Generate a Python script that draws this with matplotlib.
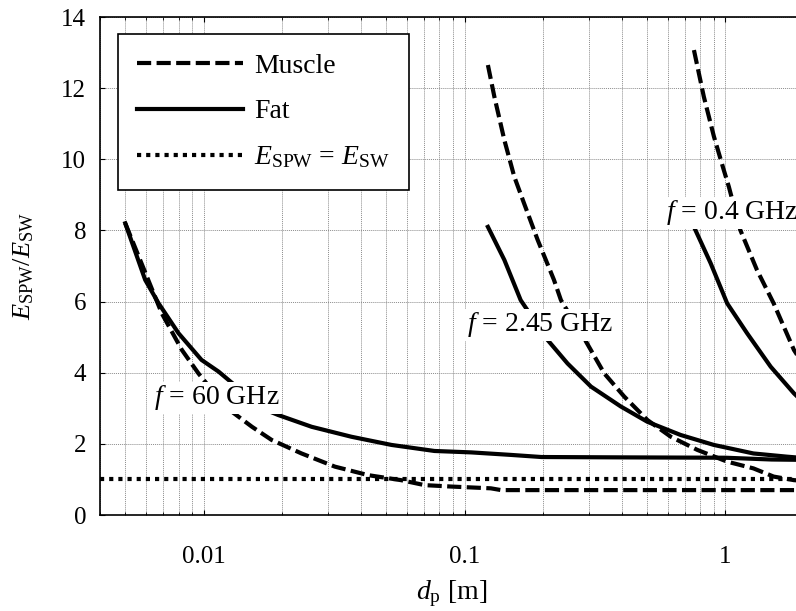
import numpy as np
import matplotlib
matplotlib.use("Agg")
import matplotlib.pyplot as plt
from matplotlib.ticker import LogLocator, FixedLocator, NullFormatter

plt.rcParams['font.family'] = ['Liberation Serif', 'DejaVu Serif']
plt.rcParams['mathtext.fontset'] = 'custom'
plt.rcParams['mathtext.rm'] = 'Liberation Serif'
plt.rcParams['mathtext.it'] = 'Liberation Serif:italic'
plt.rcParams['font.size'] = 18

# 60 GHz
fat60_d = [0.0050, 0.00596, 0.00671, 0.0080, 0.0098, 0.0114, 0.0140, 0.0167, 0.0193,
           0.0259, 0.0368, 0.0524, 0.0766, 0.106, 0.150, 0.197, 0.40, 1.0, 1.5, 2.0]
fat60_r = [8.20, 6.61, 5.95, 5.11, 4.36, 4.03, 3.48, 3.00, 2.81,
           2.48, 2.20, 1.97, 1.80, 1.76, 1.69, 1.63, 1.62, 1.61, 1.56, 1.55]
mus60_d = [0.0050, 0.0069, 0.00824, 0.00954, 0.0121, 0.0153, 0.0182, 0.0237, 0.0318,
           0.0427, 0.057, 0.0702, 0.0887, 0.126, 0.138, 2.0]
mus60_r = [8.20, 5.67, 4.64, 3.98, 3.04, 2.48, 2.11, 1.73, 1.36,
           1.12, 0.98, 0.84, 0.80, 0.75, 0.70, 0.70]

# 2.45 GHz
fat245_d = [0.1228, 0.142, 0.164, 0.208, 0.248, 0.305, 0.397, 0.502, 0.673,
            0.902, 1.28, 1.72, 2.0]
fat245_r = [8.10, 7.17, 6.04, 4.92, 4.26, 3.61, 3.05, 2.62, 2.25,
            1.97, 1.73, 1.64, 1.60]
mus245_d = [0.1228, 0.130, 0.142, 0.155, 0.169, 0.1906, 0.220, 0.234, 0.287,
            0.343, 0.409, 0.502, 0.617, 0.78, 1.015, 1.28, 1.53, 1.83, 2.0]
mus245_r = [12.65, 11.76, 10.54, 9.51, 8.76, 7.73, 6.61, 6.04, 4.97,
            3.98, 3.33, 2.67, 2.20, 1.83, 1.50, 1.31, 1.08, 0.98, 0.96]

# 0.4 GHz
fat04_d = [0.757, 0.877, 1.015, 1.21, 1.49, 1.83, 2.0]
fat04_r = [8.10, 7.08, 5.95, 5.11, 4.17, 3.42, 3.15]
mus04_d = [0.757, 0.826, 0.903, 0.985, 1.03, 1.14, 1.32, 1.53, 1.83, 2.0]
mus04_r = [13.07, 11.76, 10.64, 9.70, 9.23, 8.01, 6.89, 5.95, 4.64, 4.20]

ref_d = [0.004, 2.0]
ref_r = [1.0, 1.0]

fig = plt.figure(figsize=(7.96, 6.11), dpi=100)
ax = fig.add_axes([100/796, 96/611, 704/796, 498/611])

lw = 3
dash = (0, (3.4, 1.3))
ax.plot(mus60_d, mus60_r, color='black', lw=lw, linestyle=dash, label='Muscle')
ax.plot(fat60_d, fat60_r, color='black', lw=lw, label='Fat')
ax.plot(ref_d, ref_r, color='black', lw=lw, linestyle=(0, (1, 1.2)),
        label=r'$E_{\mathrm{SPW}}$ = $E_{\mathrm{SW}}$')
ax.plot(mus245_d, mus245_r, color='black', lw=lw, linestyle=dash)
ax.plot(fat245_d, fat245_r, color='black', lw=lw)
ax.plot(mus04_d, mus04_r, color='black', lw=lw, linestyle=dash)
ax.plot(fat04_d, fat04_r, color='black', lw=lw)

box = dict(facecolor='white', edgecolor='none', pad=1)
ax.text(0.00645, 3.3, r'$f$ = 60 GHz', fontsize=20, va='center', ha='left', bbox=box)
ax.text(0.102, 5.35, r'$f$ = 2.45 GHz', fontsize=20, va='center', ha='left', bbox=box)
ax.text(0.59, 8.5, r'$f$ = 0.4 GHz', fontsize=20, va='center', ha='left', bbox=box)

ax.set_xscale('log')
ax.set_xlim(0.004, 2.0)
ax.set_ylim(0, 14)
ax.xaxis.set_major_locator(FixedLocator([0.01, 0.1, 1]))
ax.set_xticklabels(['0.01', '0.1', '1'])
ax.xaxis.set_minor_locator(LogLocator(base=10, subs=np.arange(2, 10)))
ax.xaxis.set_minor_formatter(NullFormatter())
ax.set_yticks(range(0, 15, 2))
ax.tick_params(which='both', direction='in', top=True, labelsize=18)
ax.tick_params(axis='x', pad=22)
ax.tick_params(axis='y', pad=10)
ax.grid(which='both', axis='x', color='0.55', linestyle=(0, (1, 1)), lw=0.7)
ax.grid(which='major', axis='y', color='0.55', linestyle=(0, (1, 1)), lw=0.7)
for s in ax.spines.values():
    s.set_linewidth(1.2)

ax.set_xlabel(r'$d_{\mathrm{p}}$ [m]', fontsize=20, labelpad=8)
ax.set_ylabel(r'$E_{\mathrm{SPW}}/E_{\mathrm{SW}}$', fontsize=19, labelpad=18)

leg = ax.legend(loc='upper left', bbox_to_anchor=(18/704, 1 - 17/498), fontsize=20,
                fancybox=False, framealpha=1, edgecolor='black',
                handlelength=3.8, handletextpad=0.4, labelspacing=0.72,
                borderpad=0.7, borderaxespad=0)
leg.get_frame().set_linewidth(1.2)

fig.savefig('out.png', dpi=100)
